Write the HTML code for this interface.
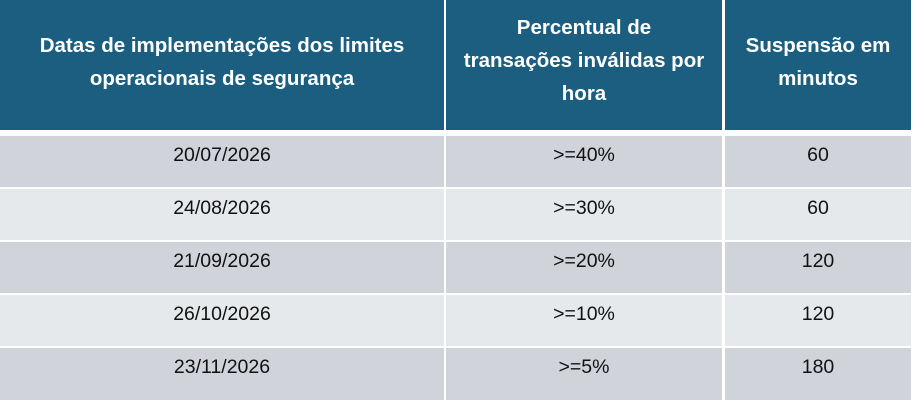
<!DOCTYPE html>
<html><head><meta charset="utf-8"><style>
body{margin:0;width:920px;height:409px;background:#fff;position:relative;overflow:hidden;font-family:"Liberation Sans",sans-serif}
.c{position:absolute;display:flex;align-items:center;justify-content:center;text-align:center;box-sizing:border-box}
.h{background:#1b5e80;color:#fff;font-weight:bold;font-size:20.5px;line-height:33px;top:0;height:130px;padding:0 4px}
.d{color:#111;font-size:19.5px;align-items:flex-start;padding-top:8px}
.a{background:#d0d3da}.b{background:#e6e9ec}
</style></head><body>
<div class="c h" style="left:0;width:444px;padding-bottom:6px">Datas de implementações dos limites<br>operacionais de segurança</div>
<div class="c h" style="left:446px;width:276px;padding-bottom:10px">Percentual de<br>transações inválidas por<br>hora</div>
<div class="c h" style="left:725px;width:186px;padding-bottom:6px">Suspensão em<br>minutos</div>

<div class="c d a" style="left:0;width:444px;top:136px;height:51px">20/07/2026</div>
<div class="c d a" style="left:446px;width:276px;top:136px;height:51px">&gt;=40%</div>
<div class="c d a" style="left:725px;width:186px;top:136px;height:51px">60</div>

<div class="c d b" style="left:0;width:444px;top:189px;height:51px">24/08/2026</div>
<div class="c d b" style="left:446px;width:276px;top:189px;height:51px">&gt;=30%</div>
<div class="c d b" style="left:725px;width:186px;top:189px;height:51px">60</div>

<div class="c d a" style="left:0;width:444px;top:242px;height:51px">21/09/2026</div>
<div class="c d a" style="left:446px;width:276px;top:242px;height:51px">&gt;=20%</div>
<div class="c d a" style="left:725px;width:186px;top:242px;height:51px">120</div>

<div class="c d b" style="left:0;width:444px;top:295px;height:51px">26/10/2026</div>
<div class="c d b" style="left:446px;width:276px;top:295px;height:51px">&gt;=10%</div>
<div class="c d b" style="left:725px;width:186px;top:295px;height:51px">120</div>

<div class="c d a" style="left:0;width:444px;top:348px;height:52px">23/11/2026</div>
<div class="c d a" style="left:446px;width:276px;top:348px;height:52px">&gt;=5%</div>
<div class="c d a" style="left:725px;width:186px;top:348px;height:52px">180</div>
</body></html>
